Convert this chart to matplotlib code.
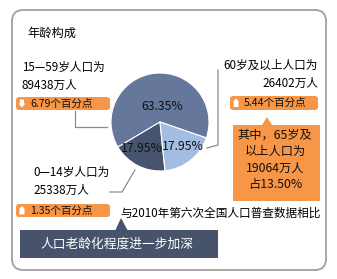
"""Age structure pie chart (census comparison card)."""

import matplotlib
matplotlib.use("Agg")
import matplotlib.pyplot as plt
from matplotlib.patches import FancyBboxPatch, Polygon, Rectangle

plt.rcParams["font.family"] = ["Noto Sans CJK SC", "DejaVu Sans"]

W, H = 337, 279

# data
groups = ["15—59岁", "0—14岁", "60岁及以上"]
shares = [63.35, 17.95, 17.95]
share_labels = ["63.35%", "17.95%", "17.95%"]
population = [89438, 25338, 26402]  # 万人
change_pts = [6.79, 1.35, 5.44]     # 个百分点
change_dir = ["down", "up", "up"]
over65_pop = 19064
over65_share = 13.50

ORANGE = "#f79646"
SLICE_COLORS = ["#65789c", "#46546f", "#a3bde2"]
DARK = "#46536a"
LINE = "#8c8c8c"


def py(y):
    # convert pixel row (from top) to axes y
    return H - y


def badge(ax, x0, y0, x1, y1, value, direction):
    box = FancyBboxPatch((x0, py(y1)), x1 - x0, y1 - y0,
                         boxstyle="round,pad=0,rounding_size=3",
                         fc=ORANGE, ec="none")
    ax.add_patch(box)
    cx = x0 + 6
    cy = py((y0 + y1) / 2)
    if direction == "down":
        pts = [(cx - 2, cy + 4), (cx + 2, cy + 4), (cx + 2, cy), (cx + 3.5, cy),
               (cx, cy - 4), (cx - 3.5, cy), (cx - 2, cy)]
    else:
        pts = [(cx - 2.5, cy - 4), (cx + 2.5, cy - 4), (cx + 2.5, cy + 2),
               (cx, cy + 4.5), (cx - 2.5, cy + 2)]
    ax.add_patch(Polygon(pts, closed=True, fc="white", ec="none"))
    ax.text(x0 + 14, cy, f"{value:.2f}个百分点", fontsize=7.6,
            va="center", ha="left", color="#111111")


fig = plt.figure(figsize=(W / 100, H / 100), dpi=100)
ax = fig.add_axes([0, 0, 1, 1])
ax.set_xlim(0, W)
ax.set_ylim(0, H)
ax.axis("off")

# card frame
ax.add_patch(FancyBboxPatch((12, py(270)), 314, 260,
                            boxstyle="round,pad=0,rounding_size=11",
                            fc="white", ec="#a0a0a0", lw=1.3))

ax.text(27, py(33), "年龄构成", fontsize=8.8, va="center", ha="left")

# pie
wedges, _ = ax.pie(shares, colors=SLICE_COLORS, startangle=-19, counterclock=True,
                   center=(160, py(122)), radius=49,
                   wedgeprops=dict(edgecolor="white", linewidth=0.8))
ax.set_xlim(0, W)
ax.set_ylim(0, H)
ax.set_aspect("auto")
label_pos = [(162, 107), (142, 148), (183, 146)]
for (lx, ly), lab in zip(label_pos, share_labels):
    ax.text(lx, py(ly), lab, fontsize=8.8, ha="center", va="center", color="#111111")

# 15-59
ax.text(22, py(67), f"{groups[0]}人口为", fontsize=8.4, va="center")
ax.text(22, py(85), f"{population[0]}万人", fontsize=8.4, va="center")
badge(ax, 16, 97, 110, 110, change_pts[0], change_dir[0])
ax.plot([75, 75, 107], [py(111), py(127), py(127)], color=LINE, lw=0.9)

# 0-14
ax.text(33, py(172), f"{groups[1]}人口为", fontsize=8.4, va="center")
ax.text(33, py(190), f"{population[1]}万人", fontsize=8.4, va="center")
badge(ax, 16, 204, 110, 217, change_pts[1], change_dir[1])
ax.plot([110, 122, 135], [py(192), py(192), py(170)], color=LINE, lw=0.9)

# 60+
ax.text(318, py(65), f"{groups[2]}人口为", fontsize=8.4, va="center", ha="right")
ax.text(318, py(83), f"{population[2]}万人", fontsize=8.4, va="center", ha="right")
badge(ax, 230, 96, 318, 110, change_pts[2], change_dir[2])
ax.plot([218, 218, 207], [py(70), py(145), py(148)], color=LINE, lw=0.9)

# 65+ callout
ax.add_patch(Rectangle((233, py(201)), 87, 76, fc=ORANGE, ec="none"))
ax.add_patch(Polygon([(262, py(125)), (272, py(125)), (267, py(117))],
                     closed=True, fc=ORANGE, ec="none"))
callout = ["其中，65岁及", "以上人口为", f"{over65_pop}万人", f"占{over65_share:.2f}%"]
for i, line in enumerate(callout):
    ax.text(275, py(135 + i * 16.5), line, fontsize=8.8, ha="center", va="center",
            color="#111111")

ax.text(120, py(213), "与2010年第六次全国人口普查数据相比", fontsize=8.4,
        va="center", ha="left")

# conclusion banner
ax.add_patch(Rectangle((20, py(258)), 198, 28, fc=DARK, ec="none"))
ax.add_patch(Polygon([(115, py(231)), (128, py(231)), (121, py(218))],
                     closed=True, fc=DARK, ec="none"))
ax.text(117, py(244), "人口老龄化程度进一步加深", fontsize=9.2, color="white",
        ha="center", va="center")

fig.savefig("out.png", dpi=100)
